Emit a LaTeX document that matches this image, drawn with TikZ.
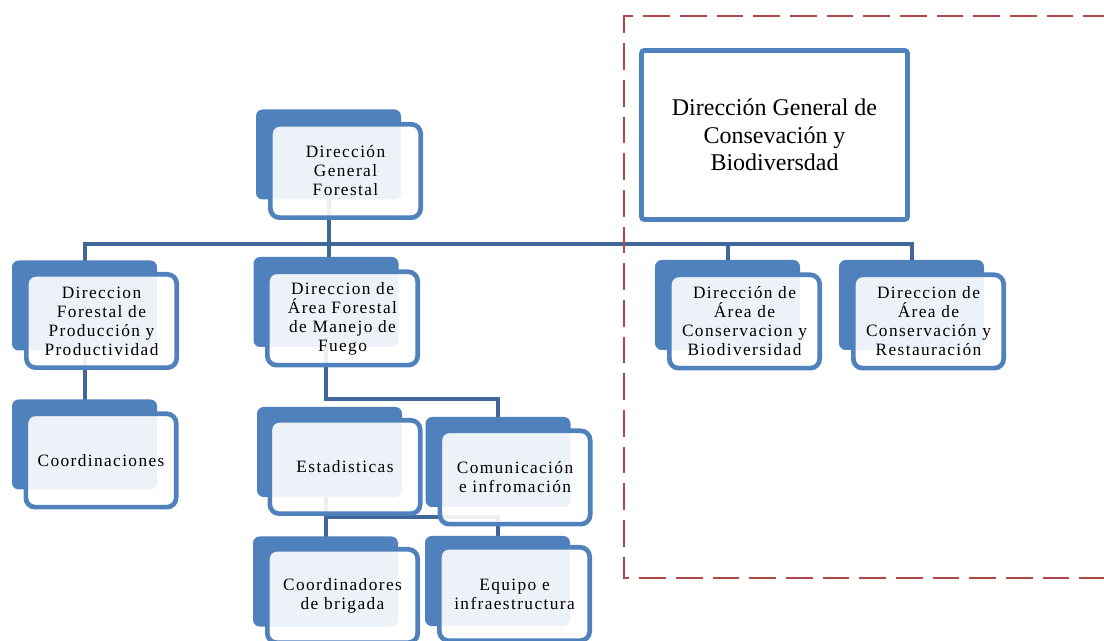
\documentclass[tikz,border=0pt]{standalone}
\usepackage{fontspec}
\setmainfont{Liberation Serif}
\newfontfamily\boxfont[LetterSpace=8]{Liberation Serif}
\usepackage{tikz}
\usetikzlibrary{backgrounds}
\usepackage{xcolor}

\definecolor{boxblue}{RGB}{79,129,189}
\definecolor{linkblue}{RGB}{63,103,153}
\definecolor{framered}{RGB}{176,72,72}

\begin{document}
\begin{tikzpicture}[
            x = 0.75pt, y = -0.75pt, % one unit = one pixel of the sketch
            backbox/.style = {fill=boxblue, rounded corners=5pt,
                minimum width=108.75pt, minimum height=67.5pt, inner sep=0pt},
            frontbox/.style = {draw=boxblue, line width=3.5pt, fill=white,
                fill opacity=0.9, text opacity=1, rounded corners=7pt,
                minimum width=112.75pt, minimum height=70pt, inner sep=0pt,
                align=center, font=\boxfont\fontsize{13}{14.25}\selectfont},
            bigbox/.style = {draw=boxblue, line width=3.5pt, fill=white,
                rounded corners=2pt, minimum width=199.5pt, minimum height=126.75pt,
                align=center, font=\fontsize{18}{20.6}\selectfont},
            link/.style = {draw=linkblue, line width=3pt}, % connector style
            groupframe/.style = {draw=framered, line width=2.2pt,
                dash pattern=on 20pt off 7.5pt}
        ]
\useasboundingbox (0,0) rectangle (1104,641);

% first level
\node[backbox] (DGFb) at (328.5,154.5) {};
\node[frontbox] (DGF) at (345.5,171) {Dirección\\General\\Forestal};

% second level
\node[backbox] (DFPPb) at (84.5,305.5) {};
\node[frontbox] (DFPP) at (101.5,321) {Direccion\\Forestal de\\Producción y\\Productividad};

\node[backbox] (DAFMFb) at (326,302) {};
\node[frontbox] (DAFMF) at (342.5,318.5) {Direccion de\\Área Forestal\\de Manejo de\\Fuego};

\node[backbox] (DACBb) at (727.5,305) {};
\node[frontbox] (DACB) at (744.5,321.5) {Dirección de\\Área de\\Conservacion y\\Biodiversidad};

\node[backbox] (DACRb) at (911.5,305) {};
\node[frontbox] (DACR) at (928.5,321.5) {Direccion de\\Área de\\Conservación y\\Restauración};

% third level
\node[backbox] (Coordb) at (84.5,444.5) {};
\node[frontbox] (Coord) at (101,460.5) {Coordinaciones};

\node[backbox] (Estadb) at (329.5,452) {};
\node[frontbox] (Estad) at (345,467) {Estadisticas};

\node[backbox] (Comunb) at (498,462) {};
\node[frontbox] (Comun) at (515,477.5) {Comunicación\\e infromación};

% fourth level
\node[backbox] (Brigb) at (325.5,581.5) {};
\node[frontbox] (Brig) at (342.5,596) {Coordinadores\\de brigada};

\node[backbox] (Equipob) at (497.5,581) {};
\node[frontbox] (Equipo) at (514.5,594) {Equipo e\\infraestructura};

% the other general direction
\node[bigbox] (DGCB) at (774.5,135) {Dirección General de\\Consevación y\\Biodiversdad};

\coordinate (bus) at (0,244);
\coordinate (sub1) at (0,399);
\coordinate (sub2) at (0,517);

\begin{pgfonlayer}{background}
 \path[link] (DFPPb.center) |- (DGFb.center |- bus) -| (DACRb.center);
 \path[link] (DGFb.center) -- (DGFb.center |- DAFMFb.center);
 \path[link] (DACBb.center |- bus) -- (DACBb.center);
 \path[link] (DFPPb.center) -- (Coordb.center);
 \path[link] (DAFMFb.center) -- (DAFMFb.center |- sub1) -| (Comunb.center);
 \path[link] (Brigb.center |- Estadb.center) -- (Brigb.center);
 \path[link] (Brigb.center |- sub2) -| (Equipob.center);
\end{pgfonlayer}

% dashed group frame, open on the right
\draw[groupframe] (1110,16) -- (624,16) -- (624,578) -- (1110,578);
\end{tikzpicture}
\end{document}
